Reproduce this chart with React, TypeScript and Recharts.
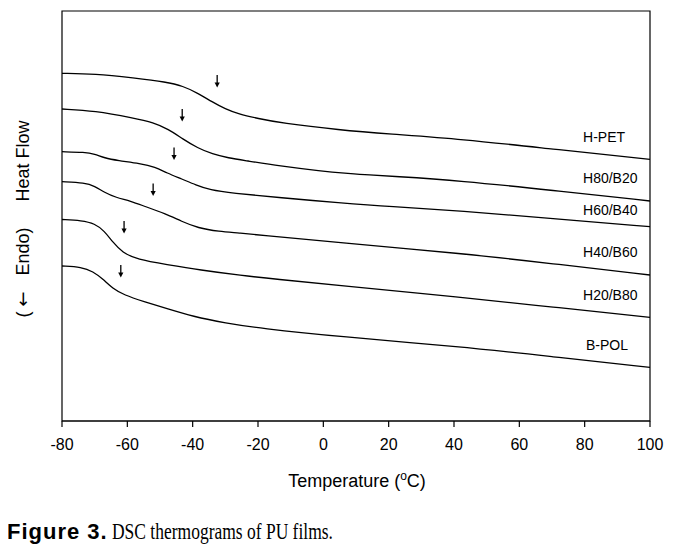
import React from 'react';
import {
  ComposedChart,
  Line,
  Scatter,
  XAxis,
  YAxis,
  ReferenceArea,
} from 'recharts';

// Temperature (°C) vs heat flow (arbitrary units, curves offset for display)
const hPet = [
  { t: -80, v: 34.77 }, { t: -70, v: 34.72 }, { t: -58, v: 34.3 }, { t: -48, v: 33.9 },
  { t: -43, v: 33.5 }, { t: -38.5, v: 32.8 }, { t: -34, v: 31.9 }, { t: -30, v: 31.2 },
  { t: -26, v: 30.7 }, { t: -20, v: 30.25 }, { t: -13, v: 29.8 }, { t: 5, v: 29.1 },
  { t: 20, v: 28.7 }, { t: 42, v: 28.2 }, { t: 70, v: 27.2 }, { t: 100, v: 26.17 },
];
const h80b20 = [
  { t: -80, v: 31.2 }, { t: -70, v: 31.03 }, { t: -58, v: 30.3 }, { t: -52, v: 29.85 },
  { t: -47.5, v: 29.2 }, { t: -43, v: 28.2 }, { t: -38.5, v: 27.3 }, { t: -34, v: 26.7 },
  { t: -29, v: 26.3 }, { t: -24, v: 26.05 }, { t: -13.3, v: 25.5 }, { t: -1, v: 25.0 },
  { t: 8, v: 24.75 }, { t: 14, v: 24.6 }, { t: 21, v: 24.48 }, { t: 42, v: 24.03 },
  { t: 70, v: 23.07 }, { t: 100, v: 22.0 },
];
const h60b40 = [
  { t: -80, v: 26.93 }, { t: -73, v: 26.88 }, { t: -70, v: 26.7 }, { t: -67, v: 26.3 },
  { t: -63, v: 26.05 }, { t: -56, v: 25.75 }, { t: -51.5, v: 25.4 }, { t: -47.9, v: 24.8 },
  { t: -43.3, v: 24.2 }, { t: -39, v: 23.6 }, { t: -34.7, v: 23.1 }, { t: -28, v: 22.8 },
  { t: -13.3, v: 22.33 }, { t: 5, v: 21.82 }, { t: 20.4, v: 21.43 }, { t: 42, v: 21.03 },
  { t: 70, v: 20.25 }, { t: 100, v: 19.43 },
];
const h40b60 = [
  { t: -80, v: 23.93 }, { t: -73, v: 23.82 }, { t: -70, v: 23.5 }, { t: -67, v: 22.85 },
  { t: -63.5, v: 22.35 }, { t: -59, v: 22.0 }, { t: -54.6, v: 21.45 }, { t: -48.5, v: 20.75 },
  { t: -43.3, v: 19.95 }, { t: -38.4, v: 19.3 }, { t: -32, v: 18.95 }, { t: -25.5, v: 18.8 },
  { t: -20, v: 18.6 }, { t: 5, v: 17.83 }, { t: 42, v: 16.77 }, { t: 70, v: 15.74 },
  { t: 100, v: 14.6 },
];
const h20b80 = [
  { t: -80, v: 20.15 }, { t: -74, v: 20.05 }, { t: -70, v: 19.75 }, { t: -67, v: 19.0 },
  { t: -64.5, v: 17.9 }, { t: -61.5, v: 16.85 }, { t: -57, v: 16.15 }, { t: -48, v: 15.65 },
  { t: -37.8, v: 15.1 }, { t: -25, v: 14.55 }, { t: -15, v: 14.2 }, { t: 5, v: 13.55 },
  { t: 42, v: 12.37 }, { t: 70, v: 11.4 }, { t: 100, v: 10.37 },
];
const bPol = [
  { t: -80, v: 15.5 }, { t: -74, v: 15.4 }, { t: -70.5, v: 14.95 }, { t: -67.5, v: 14.2 },
  { t: -64.5, v: 13.25 }, { t: -61, v: 12.6 }, { t: -55, v: 11.95 }, { t: -48, v: 11.25 },
  { t: -39.9, v: 10.45 }, { t: -30, v: 9.8 }, { t: -19.4, v: 9.27 }, { t: 5, v: 8.43 },
  { t: 42, v: 7.43 }, { t: 70, v: 6.43 }, { t: 100, v: 5.37 },
];

// Tg markers (arrows)
const tgArrows = [
  { t: -32.5, v: 34.0 },
  { t: -43.2, v: 30.6 },
  { t: -45.7, v: 26.75 },
  { t: -52.1, v: 23.15 },
  { t: -61.0, v: 19.4 },
  { t: -62.0, v: 15.0 },
];

const curveLabels = [
  { t: 79.5, v: 28.4, name: 'H-PET' },
  { t: 79.5, v: 24.3, name: 'H80/B20' },
  { t: 79.5, v: 21.1, name: 'H60/B40' },
  { t: 79.5, v: 16.9, name: 'H40/B60' },
  { t: 79.5, v: 12.6, name: 'H20/B80' },
  { t: 80.4, v: 7.6, name: 'B-POL' },
];

const xTicks = [-80, -60, -40, -20, 0, 20, 40, 60, 80, 100];
const series = [hPet, h80b20, h60b40, h40b60, h20b80, bPol];

const FONT = '"Liberation Sans", Arial, sans-serif';

const ArrowShape = (props: any) => {
  const { cx, cy } = props;
  return (
    <g>
      <line x1={cx} y1={cy - 6} x2={cx} y2={cy + 3} stroke="#000" strokeWidth={1.3} />
      <path d={`M${cx - 2.6},${cy + 1.5} L${cx + 2.6},${cy + 1.5} L${cx},${cy + 6.5} Z`} fill="#000" />
    </g>
  );
};

const LabelShape = (props: any) => {
  const { cx, cy, payload } = props;
  return (
    <text x={cx} y={cy} dy="0.35em" textAnchor="start" fontSize={14} fontFamily={FONT} fill="#000">
      {payload.name}
    </text>
  );
};

const YLabel = (props: any) => {
  const { viewBox } = props;
  const cx = 21;
  const cy = viewBox.y + viewBox.height / 2 + 3;
  return (
    <text
      x={cx}
      y={cy}
      transform={`rotate(-90, ${cx}, ${cy})`}
      textAnchor="middle"
      fontSize={18}
      fontFamily={FONT}
      fill="#000"
    >
      <tspan>(</tspan>
      <tspan dx={5} fontFamily='"DejaVu Sans", sans-serif' fill="#000">←</tspan>
      <tspan dx={16}>Endo)</tspan>
      <tspan dx={26}>Heat Flow</tspan>
    </text>
  );
};

const XLabel = (props: any) => {
  const { viewBox } = props;
  const cx = viewBox.x + viewBox.width / 2 + 1;
  return (
    <text x={cx} y={479} textAnchor="middle" fontSize={18} fontFamily={FONT} fill="#000">
      Temperature (
      <tspan dy={-7} fontSize={12}>o</tspan>
      <tspan dy={7}>C)</tspan>
    </text>
  );
};

export default function App() {
  return (
    <div style={{ width: 674 }}>
      <ComposedChart width={674} height={490} margin={{ top: 3, right: 32, left: 0, bottom: 17 }}>
        <XAxis
          type="number"
          dataKey="t"
          domain={[-80, 100]}
          ticks={xTicks}
          allowDataOverflow
          height={60}
          tickSize={6}
          tickMargin={12}
          axisLine={{ stroke: '#000', strokeWidth: 1.2 }}
          tickLine={{ stroke: '#000', strokeWidth: 1.2 }}
          tick={{ fill: '#000', fontSize: 16, fontFamily: FONT }}
          label={<XLabel />}
        />
        <YAxis
          type="number"
          dataKey="v"
          domain={[0, 41]}
          width={54}
          tick={false}
          axisLine={false}
          tickLine={false}
          allowDataOverflow
          label={<YLabel />}
        />
        <ReferenceArea x1={-80} x2={100} y1={0} y2={41} fill="none" stroke="#000" strokeWidth={1.2} />
        {series.map((d, i) => (
          <Line
            key={i}
            data={d}
            dataKey="v"
            type="basis"
            stroke="#000"
            strokeWidth={1.3}
            dot={false}
            isAnimationActive={false}
          />
        ))}
        <Scatter data={tgArrows} dataKey="v" shape={<ArrowShape />} isAnimationActive={false} />
        <Scatter data={curveLabels} dataKey="v" shape={<LabelShape />} isAnimationActive={false} />
      </ComposedChart>
      <div style={{ marginTop: 21, marginLeft: -1, lineHeight: '26px', whiteSpace: 'nowrap' }}>
        <span style={{ fontFamily: FONT, fontWeight: 'bold', fontSize: 22, letterSpacing: 1 }}>Figure 3.</span>
        <span
          style={{
            display: 'inline-block',
            marginLeft: 4,
            fontFamily: '"Liberation Serif", "Times New Roman", serif',
            fontSize: 23,
            transform: 'scaleX(0.76)',
            transformOrigin: 'left center',
          }}
        >
          DSC thermograms of PU films.
        </span>
      </div>
    </div>
  );
}
